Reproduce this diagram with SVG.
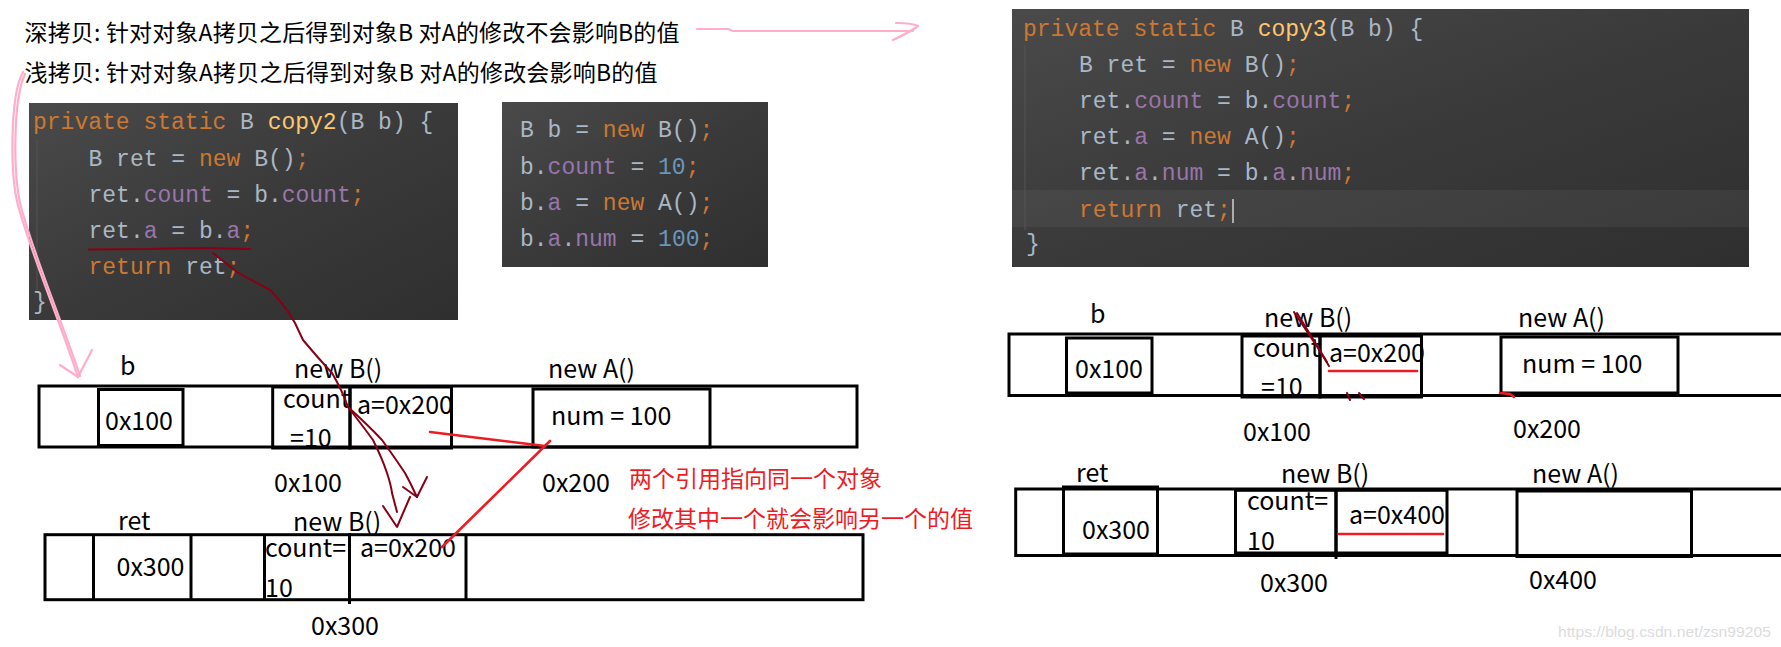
<svg xmlns="http://www.w3.org/2000/svg" width="1781" height="647" viewBox="0 0 1781 647">
<style>
.hd{font-family:"Noto Sans CJK SC","Noto Sans",sans-serif;font-size:23px;fill:#000}
.note{font-family:"Noto Sans CJK SC","Noto Sans",sans-serif;font-size:23px;fill:#ED1C24}
.lb{font-family:"Noto Sans CJK SC","Noto Sans",sans-serif;font-size:25px;fill:#000}
.code{font-family:"Liberation Mono","DejaVu Sans Mono",monospace;font-size:23px;fill:#A9B7C6}
.k{fill:#CC7832}.f{fill:#9876AA}.m{fill:#FFC66D}.n{fill:#6897BB}
.box{fill:none;stroke:#000;stroke-width:3}
.pink{fill:none;stroke:#FFAEC9;stroke-width:2.2;stroke-linecap:round;stroke-linejoin:round}
.dred{fill:none;stroke:#880015;stroke-width:2;stroke-linecap:round;stroke-linejoin:round}
.red{fill:none;stroke:#ED1C24;stroke-width:2.6;stroke-linecap:round}
.wm{font-family:"Liberation Sans",Arial,sans-serif;font-size:15px;fill:#DCDCDC}
</style>
<defs>
<linearGradient id="bg" x1="0" y1="0" x2="1" y2="1">
<stop offset="0" stop-color="#4a4a4a"/>
<stop offset="0.5" stop-color="#3a3a3a"/>
<stop offset="1" stop-color="#2f2f2f"/>
</linearGradient>
</defs>
<rect width="1781" height="647" fill="#fff"/>

<g id="header">
<text class="hd" x="24.5" y="41" textLength="655">深拷贝: 针对对象A拷贝之后得到对象B 对A的修改不会影响B的值</text>
<text class="hd" x="24.5" y="81" textLength="633">浅拷贝: 针对对象A拷贝之后得到对象B 对A的修改会影响B的值</text>
</g>

<g id="code-copy2">
<rect x="29" y="103" width="429" height="217" fill="url(#bg)"/>
<line x1="37" y1="140" x2="37" y2="290" stroke="#555" stroke-width="1"/>
<text class="code" xml:space="preserve" x="33" y="129"><tspan class="k">private static </tspan>B <tspan class="m">copy2</tspan>(B b) {</text>
<text class="code" xml:space="preserve" x="88.5" y="166">B ret = <tspan class="k">new</tspan> B()<tspan class="k">;</tspan></text>
<text class="code" xml:space="preserve" x="88.5" y="202">ret.<tspan class="f">count</tspan> = b.<tspan class="f">count</tspan><tspan class="k">;</tspan></text>
<text class="code" xml:space="preserve" x="88.5" y="238">ret.<tspan class="f">a</tspan> = b.<tspan class="f">a</tspan><tspan class="k">;</tspan></text>
<text class="code" xml:space="preserve" x="88.5" y="274"><tspan class="k">return</tspan> ret<tspan class="k">;</tspan></text>
<text class="code" xml:space="preserve" x="33" y="309">}</text>
</g>

<g id="code-init">
<rect x="502" y="102" width="266" height="165" fill="url(#bg)"/>
<text class="code" xml:space="preserve" x="520" y="137">B b = <tspan class="k">new</tspan> B()<tspan class="k">;</tspan></text>
<text class="code" xml:space="preserve" x="520" y="174">b.<tspan class="f">count</tspan> = <tspan class="n">10</tspan><tspan class="k">;</tspan></text>
<text class="code" xml:space="preserve" x="520" y="210">b.<tspan class="f">a</tspan> = <tspan class="k">new</tspan> A()<tspan class="k">;</tspan></text>
<text class="code" xml:space="preserve" x="520" y="246">b.<tspan class="f">a</tspan>.<tspan class="f">num</tspan> = <tspan class="n">100</tspan><tspan class="k">;</tspan></text>
</g>

<g id="code-copy3">
<rect x="1012" y="9" width="737" height="258" fill="url(#bg)"/>
<rect x="1012" y="190" width="737" height="37" fill="#fff" fill-opacity="0.05"/>
<line x1="1025" y1="45" x2="1025" y2="230" stroke="#555" stroke-width="1"/>
<text class="code" xml:space="preserve" x="1023" y="36"><tspan class="k">private static </tspan>B <tspan class="m">copy3</tspan>(B b) {</text>
<text class="code" xml:space="preserve" x="1079" y="72">B ret = <tspan class="k">new</tspan> B()<tspan class="k">;</tspan></text>
<text class="code" xml:space="preserve" x="1079" y="108">ret.<tspan class="f">count</tspan> = b.<tspan class="f">count</tspan><tspan class="k">;</tspan></text>
<text class="code" xml:space="preserve" x="1079" y="144">ret.<tspan class="f">a</tspan> = <tspan class="k">new</tspan> A()<tspan class="k">;</tspan></text>
<text class="code" xml:space="preserve" x="1079" y="180">ret.<tspan class="f">a</tspan>.<tspan class="f">num</tspan> = b.<tspan class="f">a</tspan>.<tspan class="f">num</tspan><tspan class="k">;</tspan></text>
<text class="code" xml:space="preserve" x="1079" y="217"><tspan class="k">return</tspan> ret<tspan class="k">;</tspan></text>
<line x1="1233" y1="199" x2="1233" y2="223" stroke="#d0d0d0" stroke-width="1.5"/>
<text class="code" xml:space="preserve" x="1026" y="251">}</text>
</g>

<g id="mem-left-b">
<rect class="box" x="39" y="386" width="818" height="61"/>
<rect class="box" x="98.5" y="389.5" width="84.5" height="56"/>
<rect class="box" x="272.7" y="387" width="77.3" height="61"/>
<rect class="box" x="350" y="387" width="101.5" height="61"/>
<rect class="box" x="533" y="389" width="177" height="58"/>
<text class="lb" x="120" y="375">b</text>
<text class="lb" x="294" y="378">new B()</text>
<text class="lb" x="548" y="378">new A()</text>
<text class="lb" x="105" y="430">0x100</text>
<text class="lb" x="283" y="408">count</text>
<text class="lb" x="290" y="447">=10</text>
<text class="lb" x="357" y="414">a=0x200</text>
<text class="lb" x="551" y="425">num = 100</text>
<text class="lb" x="274" y="492">0x100</text>
<text class="lb" x="542" y="492">0x200</text>
</g>

<g id="mem-left-ret">
<rect class="box" x="45" y="534.7" width="818" height="65"/>
<line class="box" x1="93.5" y1="535" x2="93.5" y2="600"/>
<line class="box" x1="191" y1="535" x2="191" y2="600"/>
<line class="box" x1="264.5" y1="535" x2="264.5" y2="600"/>
<line class="box" x1="349.5" y1="533" x2="349.5" y2="604"/>
<line class="box" x1="466" y1="535" x2="466" y2="600"/>
<text class="lb" x="118" y="530">ret</text>
<text class="lb" x="293" y="531">new B()</text>
<text class="lb" x="116.5" y="576">0x300</text>
<text class="lb" x="265" y="557">count=</text>
<text class="lb" x="265" y="597">10</text>
<text class="lb" x="360" y="557">a=0x200</text>
<text class="lb" x="311" y="635">0x300</text>
</g>

<g id="note">
<text class="note" x="629" y="487">两个引用指向同一个对象</text>
<text class="note" x="628" y="527">修改其中一个就会影响另一个的值</text>
</g>

<g id="mem-right-b">
<path class="box" d="M1781,334 H1009 V395.5 H1781"/>
<rect class="box" x="1066.5" y="338" width="85.5" height="55"/>
<rect class="box" x="1242" y="336" width="78" height="61"/>
<rect class="box" x="1320" y="336" width="101.5" height="61"/>
<rect class="box" x="1501" y="337" width="177" height="56"/>
<text class="lb" x="1090" y="323">b</text>
<text class="lb" x="1264" y="327">new B()</text>
<text class="lb" x="1518" y="327">new A()</text>
<text class="lb" x="1075" y="378">0x100</text>
<text class="lb" x="1253" y="357">count</text>
<text class="lb" x="1261" y="396">=10</text>
<text class="lb" x="1329" y="362">a=0x200</text>
<text class="lb" x="1522" y="373">num = 100</text>
<text class="lb" x="1243" y="441">0x100</text>
<text class="lb" x="1513" y="438">0x200</text>
</g>

<g id="mem-right-ret">
<path class="box" d="M1781,489 H1015.7 V555.5 H1781"/>
<rect class="box" x="1063.5" y="487" width="94" height="67"/>
<rect class="box" x="1235.5" y="490.3" width="100.5" height="62.7"/>
<rect class="box" x="1336" y="490.3" width="111" height="62.7"/>
<line class="box" x1="1336" y1="553" x2="1336" y2="559"/>
<rect class="box" x="1517" y="491" width="174.5" height="65.5"/>
<text class="lb" x="1076" y="482">ret</text>
<text class="lb" x="1281" y="483">new B()</text>
<text class="lb" x="1532" y="483">new A()</text>
<text class="lb" x="1082" y="539">0x300</text>
<text class="lb" x="1247" y="510">count=</text>
<text class="lb" x="1247" y="550">10</text>
<text class="lb" x="1349" y="524">a=0x400</text>
<text class="lb" x="1260" y="592">0x300</text>
<text class="lb" x="1529" y="589">0x400</text>
</g>

<g id="connectors">
<path class="pink" d="M697,29 L728,29 L733,31 L913,31"/>
<path class="pink" d="M896,23 Q912,23 918,26 Q910,32 893,40"/>
<path class="pink" d="M23,72 C10,95 9,180 20,212 C33,258 60,322 78,377"/>
<path class="pink" d="M25,74 C13,100 12,180 23,214 C36,260 62,322 80,376"/>
<path class="pink" d="M60,365 L78,377 L92,350"/>
<path class="dred" d="M89,249.5 Q120,249 150,249 Q180,248 205,248 L250,249"/>
<path class="dred" d="M213,253 L237,272 Q255,282 270,290 Q285,305 295,323 L303,340 Q318,358 332,373 Q342,390 348,407 Q362,425 373,440 Q382,458 387,473 Q391,485 392,493 L397,512"/>
<path class="dred" d="M348,407 Q368,425 382,440 Q395,458 405,473 Q411,484 415,493 L417,497"/>
<path class="dred" d="M383,506 L397,527 L410,497"/>
<path class="dred" d="M403,487 L417,497 L427,477"/>
<path class="red" d="M430,432 L545,446"/>
<path class="red" d="M550,441 L442,547"/>
<path class="dred" d="M1294,312 L1318,348 L1329,366"/>
<path class="dred" d="M1297,313 L1327,362"/>
<path class="dred" d="M1347,393 L1350,400 M1359,393 L1364,399"/>
<path class="red" d="M1500,393 L1510,394 L1514,397"/>
<path class="red" d="M1329,371 L1417,371" stroke-width="3"/>
<path class="red" d="M1339,534 L1443,534" stroke-width="3"/>
</g>

<text class="wm" x="1558" y="637" textLength="213" lengthAdjust="spacingAndGlyphs">https://blog.csdn.net/zsn99205</text>
</svg>
